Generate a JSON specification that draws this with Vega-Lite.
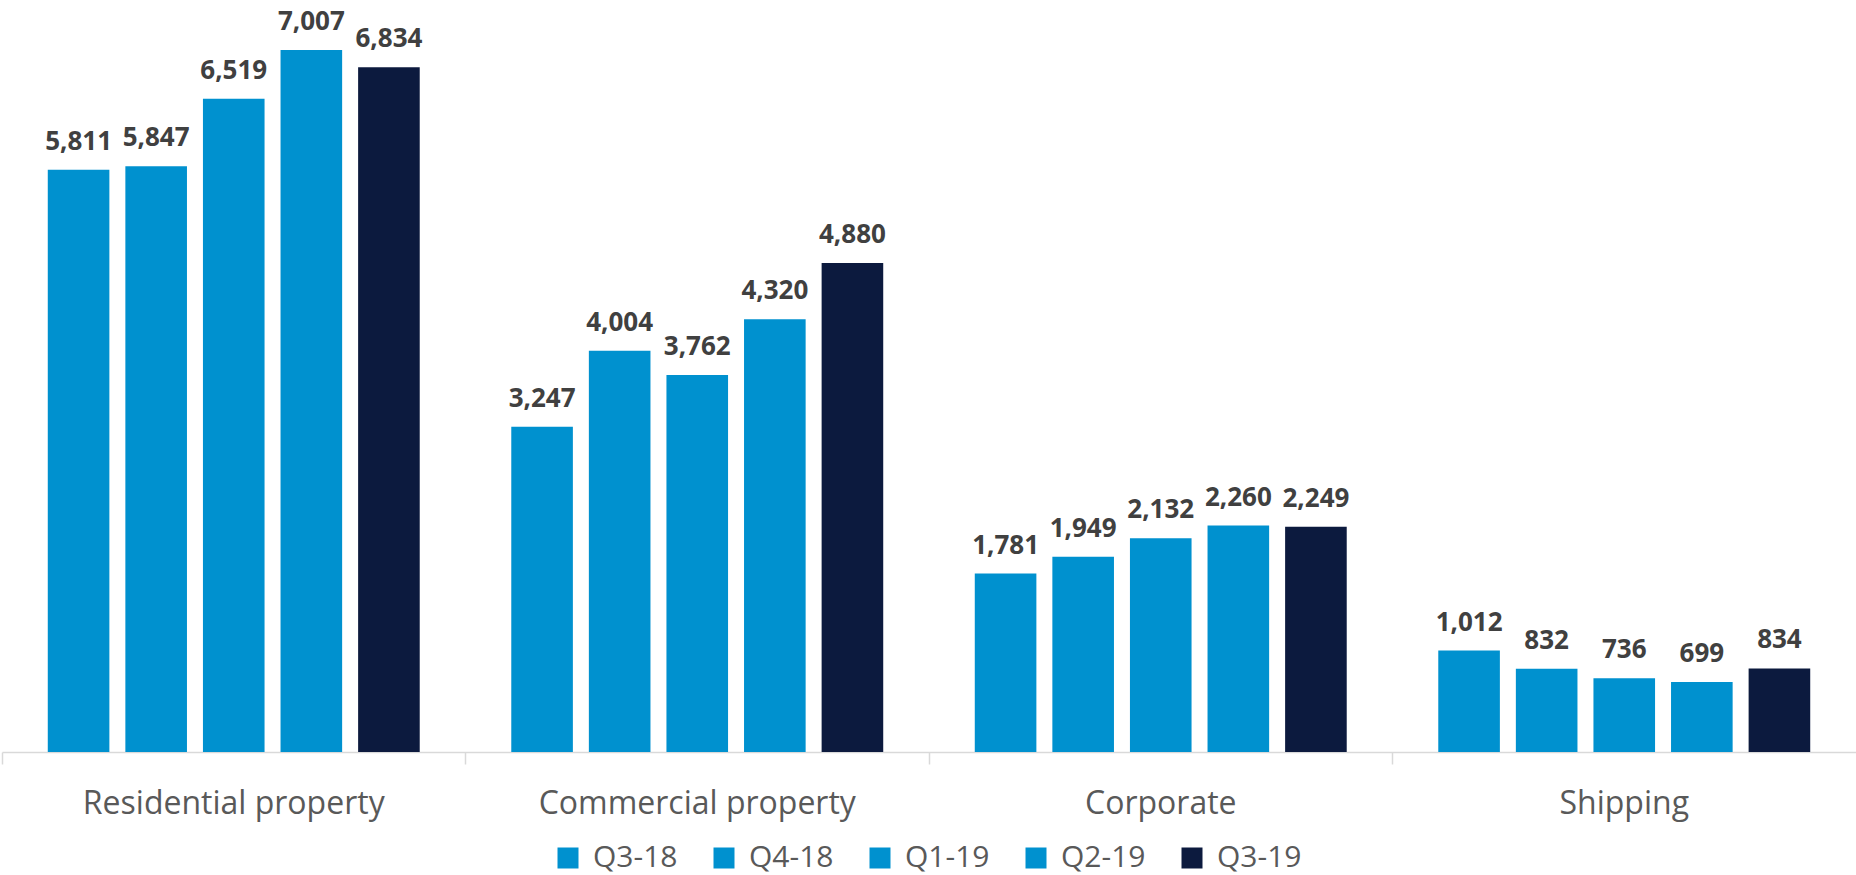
{
  "$schema": "https://vega.github.io/schema/vega-lite/v6.json",
  "width": 1854,
  "height": 752,
  "autosize": {"type": "none"},
  "padding": {"left": 2, "top": 0, "right": 0, "bottom": 123},
  "background": "white",
  "config": {"view": {"stroke": null}, "font": "Open Sans"},
  "data": {
    "values": [
      {"cat": "Residential property", "q": "Q3-18", "v": 5811},
      {"cat": "Residential property", "q": "Q4-18", "v": 5847},
      {"cat": "Residential property", "q": "Q1-19", "v": 6519},
      {"cat": "Residential property", "q": "Q2-19", "v": 7007},
      {"cat": "Residential property", "q": "Q3-19", "v": 6834},
      {"cat": "Commercial property", "q": "Q3-18", "v": 3247},
      {"cat": "Commercial property", "q": "Q4-18", "v": 4004},
      {"cat": "Commercial property", "q": "Q1-19", "v": 3762},
      {"cat": "Commercial property", "q": "Q2-19", "v": 4320},
      {"cat": "Commercial property", "q": "Q3-19", "v": 4880},
      {"cat": "Corporate", "q": "Q3-18", "v": 1781},
      {"cat": "Corporate", "q": "Q4-18", "v": 1949},
      {"cat": "Corporate", "q": "Q1-19", "v": 2132},
      {"cat": "Corporate", "q": "Q2-19", "v": 2260},
      {"cat": "Corporate", "q": "Q3-19", "v": 2249},
      {"cat": "Shipping", "q": "Q3-18", "v": 1012},
      {"cat": "Shipping", "q": "Q4-18", "v": 832},
      {"cat": "Shipping", "q": "Q1-19", "v": 736},
      {"cat": "Shipping", "q": "Q2-19", "v": 699},
      {"cat": "Shipping", "q": "Q3-19", "v": 834}
    ]
  },
  "encoding": {
    "x": {
      "field": "cat",
      "type": "nominal",
      "sort": ["Residential property", "Commercial property", "Corporate", "Shipping"],
      "scale": {"paddingInner": 0, "paddingOuter": 0},
      "axis": {
        "title": null,
        "labelAngle": 0,
        "labelFontSize": 32,
        "labelColor": "#595959",
        "labelPadding": 24,
        "labelLimit": 0,
        "tickSize": 12,
        "tickColor": "#d9d9d9",
        "tickWidth": 1.5,
        "bandPosition": 0,
        "domainColor": "#d9d9d9",
        "domainWidth": 1.5
      }
    },
    "xOffset": {
      "field": "q",
      "type": "nominal",
      "sort": ["Q3-18", "Q4-18", "Q1-19", "Q2-19", "Q3-19"],
      "scale": {"paddingInner": 0.206, "paddingOuter": 0.59}
    },
    "y": {
      "field": "v",
      "type": "quantitative",
      "scale": {"domain": [0, 7505]},
      "axis": null
    }
  },
  "layer": [
    {
      "mark": {"type": "bar"},
      "encoding": {
        "color": {
          "field": "q",
          "type": "nominal",
          "sort": ["Q3-18", "Q4-18", "Q1-19", "Q2-19", "Q3-19"],
          "scale": {
            "domain": ["Q3-18", "Q4-18", "Q1-19", "Q2-19", "Q3-19"],
            "range": ["#0091CF", "#0091CF", "#0091CF", "#0091CF", "#0C1A3E"]
          },
          "legend": {
            "title": null,
            "orient": "none",
            "direction": "horizontal",
            "legendX": 551,
            "legendY": 843,
            "padding": 0,
            "symbolType": "square",
            "symbolSize": 441,
            "symbolStrokeWidth": 0,
            "labelFontSize": 30,
            "labelColor": "#595959",
            "labelOffset": 10,
            "columnPadding": 31
          }
        }
      }
    },
    {
      "mark": {
        "type": "text",
        "baseline": "alphabetic",
        "dy": -20,
        "fontSize": 26,
        "fontWeight": "bold",
        "color": "#404040"
      },
      "encoding": {
        "text": {"field": "v", "type": "quantitative", "format": ","}
      }
    }
  ]
}
